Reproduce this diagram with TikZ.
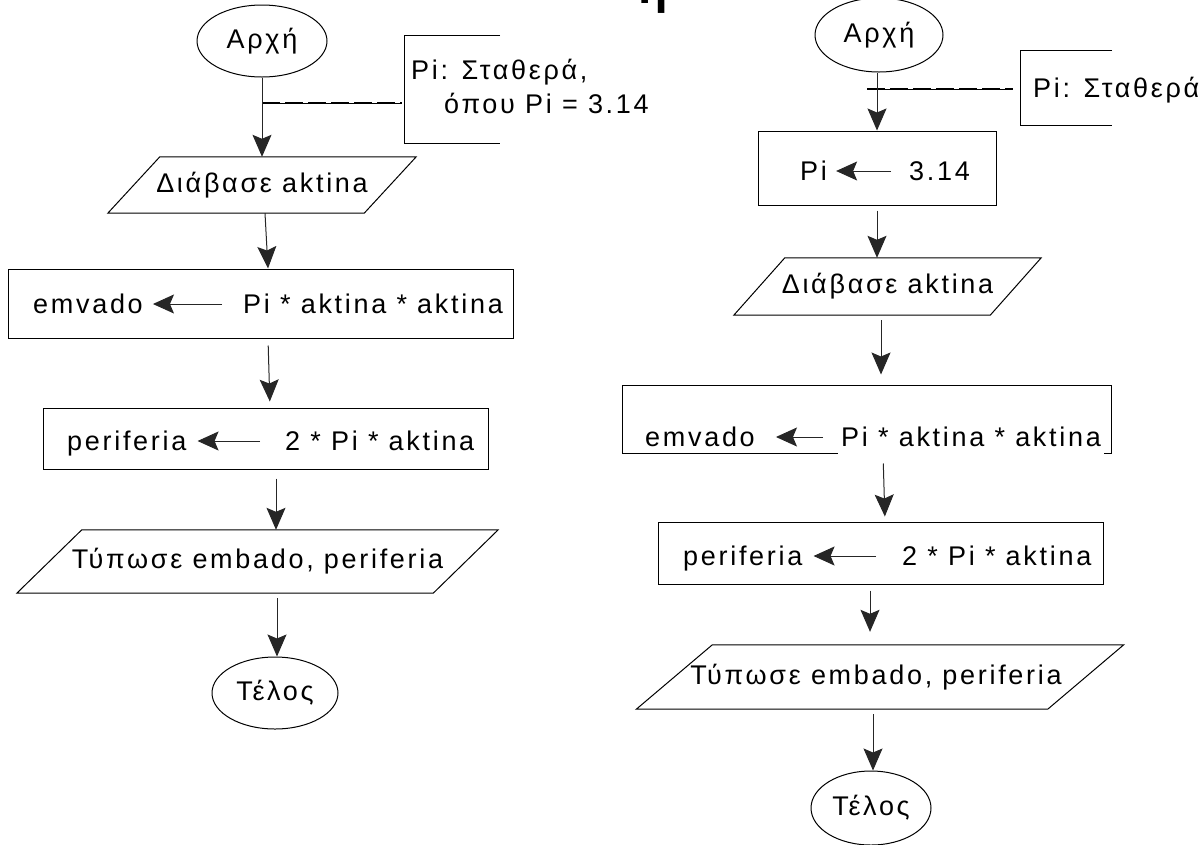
\documentclass[tikz,border=0pt]{standalone}
\usepackage{fontspec}
\setmainfont{Liberation Sans}[LetterSpace=10]
\usetikzlibrary{shapes.geometric,arrows.meta,calc}

% parallelogram drawn around a (borderless) node
\newcommand\drawpara[2]{%
  \draw[ln] ([xshift=#2]#1.north west) -- ([xshift=#2]#1.north east)
     -- ([xshift=-#2]#1.south east) -- ([xshift=-#2]#1.south west) -- cycle;}

\begin{document}
\begin{tikzpicture}[x=1pt,y=-1pt,
  every node/.style={font=\fontsize{27}{32}\selectfont},
  ln/.style={line width=1pt,draw=black},
  term/.style={ellipse,draw,line width=1pt,inner sep=0},
  procbox/.style={draw,line width=1pt,inner sep=0},
  iobox/.style={inner sep=0},
  txt/.style={inner sep=0,anchor=base west},
  flow/.style={line width=1pt,draw=black!85,-{Stealth[length=22pt,width=19pt,inset=4pt]}},
  assign/.style={line width=1pt,draw=black!85,-{Stealth[length=21pt,width=19pt,inset=4pt]}},
  annodash/.style={line width=2.4pt,dash pattern=on 18pt off 5pt},
  annothin/.style={line width=0.6pt},
]
\useasboundingbox (0,0) rectangle (1204,844);
\begin{scope}
\clip (0,0) rectangle (1204,844);

% heading, mostly above the page
\node[font=\bfseries\fontsize{48}{48}\selectfont,anchor=base west,inner sep=0] (ttl) at (638,3) {η};

% ---------------- first version: constant noted as a comment ----------------
\node[term,minimum width=130pt,minimum height=72pt] (s1) at (262,41) {Αρχή};

\draw[ln] (500,35) -- (404,35) -- (404,143) -- (500,143);
\coordinate (c1) at (402,103);
\coordinate (d1) at (262,103);
\node[txt] (a1) at (411,79) {Pi: Σταθερά,};
\node[txt] (a2) at (444,113) {όπου Pi = 3.14};
\draw[annothin] (d1) -- (c1);
\draw[annodash] (d1) -- (c1);

\node[iobox,minimum width=256pt,minimum height=56pt] (p1) at (262,185) {Διάβασε aktina};
\drawpara{p1}{26pt}

\node[procbox,minimum width=505pt,minimum height=69pt] (b1) at (260.5,303.5) {};
\node[txt] (t1a) at (33,313) {emvado};
\node[txt] (t1b) at (243,313) {Pi * aktina * aktina};
\draw[assign] ([xshift=-21pt,yshift=9pt]t1b.base west) -- ([xshift=10pt,yshift=9pt]t1a.base east);

\node[procbox,minimum width=445pt,minimum height=61pt] (b2) at (265.5,438.5) {};
\node[txt] (t2a) at (67,450) {periferia};
\node[txt] (t2b) at (285,450) {2 * Pi * aktina};
\draw[assign] ([xshift=-25pt,yshift=9pt]t2b.base west) -- ([xshift=11pt,yshift=9pt]t2a.base east);

\node[iobox,minimum width=416pt,minimum height=63pt] (p2) at (257.5,561.5) {Τύπωσε embado, periferia};
\drawpara{p2}{32.5pt}

\node[term,minimum width=126pt,minimum height=72pt] (e1) at (275,693) {Τέλος};

\draw[flow] (s1.south) -- (p1.north);
\draw[flow] ([xshift=3pt]p1.south) -- ([xshift=7.5pt]b1.north);
\draw[flow,shorten <=7pt,shorten >=6pt] ([xshift=7.5pt]b1.south) -- ([xshift=4.5pt]b2.north);
\draw[flow,shorten <=9pt] ([xshift=10.5pt]b2.south) -- ([xshift=18.5pt]p2.north);
\draw[flow,shorten <=5pt] ([xshift=19.5pt]p2.south) -- ([xshift=2pt]e1.north);

% ---------------- second version: constant assigned in the flow ----------------
\node[term,minimum width=128pt,minimum height=74pt] (s2) at (879,35) {Αρχή};

\draw[ln] (1112,50) -- (1020,50) -- (1020,125) -- (1112,125);
\coordinate (c2) at (1013,89);
\coordinate (d2) at (867,89);
\node[txt] (a3) at (1033,97) {Pi: Σταθερά};
\draw[annothin] (d2) -- (c2);
\draw[annodash] (d2) -- (c2);

\node[procbox,minimum width=238pt,minimum height=74pt] (bp) at (877,168) {};
\node[txt] (t3a) at (800,180) {Pi};
\node[txt] (t3b) at (909,180) {3.14};
\draw[assign] ([xshift=-18pt,yshift=9pt]t3b.base west) -- ([xshift=9pt,yshift=9pt]t3a.base east);

\node[iobox,minimum width=256pt,minimum height=57pt] (p3) at (887.5,286.5) {Διάβασε aktina};
\drawpara{p3}{25.5pt}

\node[procbox,minimum width=489pt,minimum height=68pt] (b3) at (866.5,419) {};
\node[txt] (t4a) at (645,446) {emvado};
\node[txt,inner xsep=3pt,inner ysep=9pt,fill=white] (t4b) at (838,446) {Pi * aktina * aktina};
\draw[assign] ([xshift=-15pt,yshift=9pt]t4b.base west) -- ([xshift=21pt,yshift=9pt]t4a.base east);

\node[procbox,minimum width=445pt,minimum height=62pt] (b4) at (880.5,553) {};
\node[txt] (t5a) at (683,565) {periferia};
\node[txt] (t5b) at (902,565) {2 * Pi * aktina};
\draw[assign] ([xshift=-26pt,yshift=9pt]t5b.base west) -- ([xshift=11pt,yshift=9pt]t5a.base east);

\node[iobox,minimum width=411pt,minimum height=64pt] (p4) at (880,677) {};
\drawpara{p4}{38pt}
\node (t6) at (876,677) {Τύπωσε embado, periferia};

\node[term,minimum width=120pt,minimum height=74pt] (e2) at (871,808) {Τέλος};

\draw[flow] ([xshift=-2pt]s2.south) -- (bp.north);
\draw[flow,shorten <=5pt] (bp.south) -- ([xshift=-10.5pt]p3.north);
\draw[flow,shorten <=5pt,shorten >=10pt] ([xshift=-6.5pt]p3.south) -- ([xshift=14.5pt]b3.north);
\draw[flow,shorten <=10pt,shorten >=5pt] ([xshift=16.5pt]b3.south) -- ([xshift=4.5pt]b4.north);
\draw[flow,shorten <=6pt,shorten >=13pt] ([xshift=-10.5pt]b4.south) -- ([xshift=-10pt]p4.north);
\draw[flow,shorten <=5pt] ([xshift=-7pt]p4.south) -- ([xshift=2pt]e2.north);
\end{scope}
\end{tikzpicture}
\end{document}
